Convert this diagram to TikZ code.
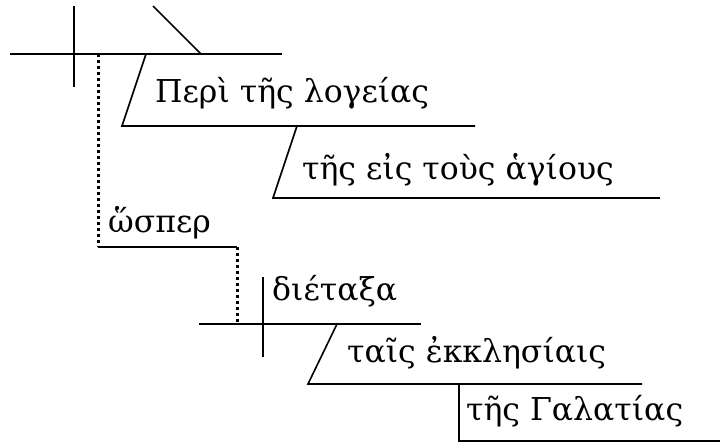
\documentclass[tikz,border=0pt]{standalone}
\usepackage{fontspec}
\setmainfont{DejaVu Serif}
\usetikzlibrary{positioning}
\tikzset {
	word/.style={anchor=base west, inner sep=0pt, font=\fontsize{31.5}{36}\selectfont},
	rule/.style={line width=1.6pt},
	linker/.style={line width=3pt, dash pattern=on 3pt off 3pt}
}

\begin{document}
\begin{tikzpicture}[x=1pt,y=-1pt]
	\useasboundingbox (0,0) rectangle (725,447);
	% main clause
	\coordinate (mainL) at (10,54);
	\coordinate (mainR) at (282,54);
	\coordinate (splitT) at (74,6);
	\coordinate (splitB) at (74,87);
	\coordinate (objT) at (153,6);
	\coordinate (objB) at (201,54);
	\draw[rule] (mainL) -- (mainR);
	\draw[rule] (splitT) -- (splitB);
	\draw[rule] (objT) -- (objB);
	% prepositional phrases
	\coordinate (periT) at (146,54);
	\coordinate (periB) at (122,126);
	\coordinate (periR) at (475,126);
	\coordinate (eisT) at (297,126);
	\coordinate (eisB) at (273,198);
	\coordinate (eisR) at (660,198);
	\draw[rule] (periT) -- (periB) -- (periR);
	\draw[rule] (eisT) -- (eisB) -- (eisR);
	\node[word] (peri) at (155,102) {Περὶ τῆς λογείας};
	\node[word] (eis) at (302,179) {τῆς εἰς τοὺς ἁγίους};
	% subordinate clause
	\coordinate (linkA) at (98,54);
	\coordinate (linkB) at (98,247);
	\coordinate (conjR) at (237,247);
	\coordinate (linkC) at (237,324);
	\draw[linker] (linkA) -- (linkB);
	\draw[rule] (linkB) -- (conjR);
	\draw[linker] (conjR) -- (linkC);
	\node[word] (hosper) at (108,232) {ὥσπερ};
	\coordinate (subL) at (199,324);
	\coordinate (subR) at (421,324);
	\coordinate (vertT) at (263,277);
	\coordinate (vertB) at (263,357);
	\draw[rule] (subL) -- (subR);
	\draw[rule] (vertT) -- (vertB);
	\node[word] (dietaxa) at (272,300) {διέταξα};
	\coordinate (taisT) at (337,324);
	\coordinate (taisB) at (308,384);
	\coordinate (taisR) at (642,384);
	\draw[rule] (taisT) -- (taisB) -- (taisR);
	\node[word] (tais) at (347,362) {ταῖς ἐκκλησίαις};
	\coordinate (galT) at (459,384);
	\coordinate (galB) at (459,441);
	\coordinate (galR) at (720,441);
	\draw[rule] (galT) -- (galB) -- (galR);
	\node[word] (gal) at (466,420) {τῆς Γαλατίας};
\end{tikzpicture}
\end{document}
